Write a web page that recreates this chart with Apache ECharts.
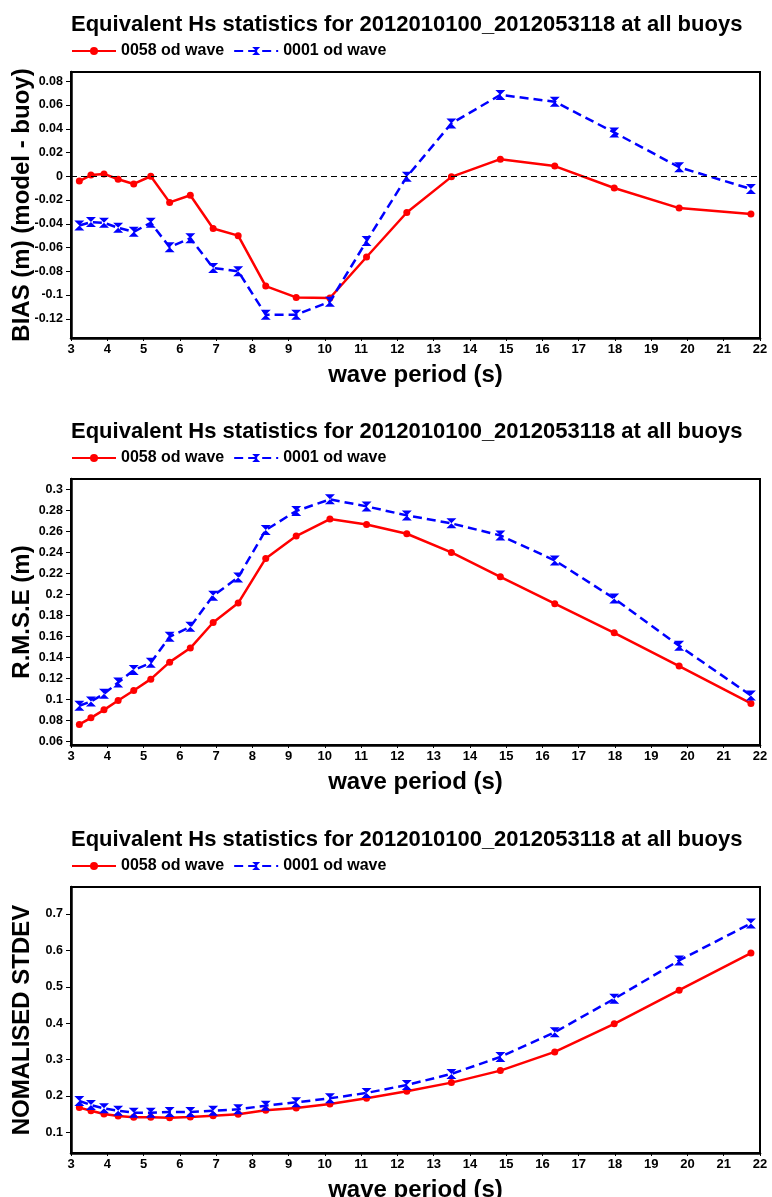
<!DOCTYPE html>
<html>
<head>
<meta charset="utf-8">
<title>Equivalent Hs statistics</title>
<script src="https://cdn.jsdelivr.net/npm/echarts@6/dist/echarts.min.js"></script>
<style>
  html, body { margin: 0; padding: 0; background: #fff; }
  #chart { width: 772px; height: 1197px; }
</style>
</head>
<body>
<div id="chart"></div>
<script>
// Wave period bins (s)
const periods = [3.23, 3.55, 3.91, 4.30, 4.73, 5.20, 5.72, 6.29, 6.92, 7.61, 8.37,
                 9.21, 10.14, 11.15, 12.26, 13.49, 14.84, 16.34, 17.98, 19.77, 21.75];

// Series names
const nameA = '0058 od wave';
const nameB = '0001 od wave';

// BIAS (m) (model - buoy)
const bias0058 = [-0.004, 0.001, 0.002, -0.0025, -0.0065, 0.000, -0.022, -0.016, -0.044, -0.050, -0.0925,
                  -0.102, -0.1025, -0.068, -0.0305, -0.0005, 0.0144, 0.0086, -0.0099, -0.0268, -0.0318];
const bias0001 = [-0.0414, -0.0386, -0.0392, -0.0434, -0.0468, -0.0392, -0.0597, -0.0521, -0.0772, -0.080, -0.1166,
                  -0.1166, -0.1056, -0.0546, -0.0005, 0.0445, 0.0685, 0.0628, 0.0369, 0.0076, -0.0107];

// R.M.S.E (m)
const rmse0058 = [0.0762, 0.0825, 0.0901, 0.099, 0.1086, 0.1194, 0.1356, 0.149, 0.1734, 0.1919, 0.2345,
                  0.2558, 0.272, 0.2669, 0.258, 0.2402, 0.217, 0.1913, 0.1636, 0.1318, 0.0962];
const rmse0001 = [0.094, 0.0981, 0.1054, 0.1162, 0.128, 0.135, 0.1598, 0.1693, 0.1989, 0.2164, 0.2615,
                  0.2797, 0.2908, 0.2841, 0.2755, 0.2679, 0.2564, 0.2326, 0.1963, 0.1512, 0.1038];

// Normalised standard deviation
const std0058 = [0.168, 0.1596, 0.1505, 0.145, 0.1413, 0.1413, 0.1404, 0.1422, 0.1459, 0.1495, 0.1606,
                 0.167, 0.178, 0.1936, 0.2128, 0.2367, 0.2697, 0.3211, 0.3982, 0.4908, 0.5927];
const std0001 = [0.1862, 0.1752, 0.166, 0.1596, 0.1541, 0.1541, 0.156, 0.156, 0.1596, 0.1633, 0.1734,
                 0.1826, 0.1936, 0.2083, 0.2303, 0.2606, 0.3073, 0.3752, 0.467, 0.5725, 0.6743];

// Tick values
const periodTicks = [3, 4, 5, 6, 7, 8, 9, 10, 11, 12, 13, 14, 15, 16, 17, 18, 19, 20, 21, 22];
const biasTicks = [-0.12, -0.1, -0.08, -0.06, -0.04, -0.02, 0, 0.02, 0.04, 0.06, 0.08];
const rmseTicks = [0.06, 0.08, 0.1, 0.12, 0.14, 0.16, 0.18, 0.2, 0.22, 0.24, 0.26, 0.28, 0.3];
const stdTicks = [0.1, 0.2, 0.3, 0.4, 0.5, 0.6, 0.7];

const titleText = 'Equivalent Hs statistics for 2012010100_2012053118 at all buoys';
const FONT = '"Liberation Sans", Arial, sans-serif';

// Panel layout: grid top, y-range and y-axis title
const panels = [
  { top: 72,  yMin: -0.1362, yMax: 0.0878, yName: 'BIAS (m) (model - buoy)', ticks: biasTicks, a: bias0058, b: bias0001, zero: true },
  { top: 479, yMin: 0.0566,  yMax: 0.3102, yName: 'R.M.S.E (m)',             ticks: rmseTicks, a: rmse0058, b: rmse0001 },
  { top: 887, yMin: 0.0433,  yMax: 0.7743, yName: 'NOMALISED STDEV',         ticks: stdTicks,  a: std0058,  b: std0001 }
];

// Hourglass marker for the 0001 run
const bowtie = 'path://M0,0 L10,0 L5,5 L10,10 L0,10 L5,5 Z';
const pairs = arr => periods.map((p, i) => [p, arr[i]]);
const fmt = v => String(+(+v).toFixed(3));

const option = {
  backgroundColor: '#ffffff',
  animation: false,
  title: [], legend: [], grid: [], xAxis: [], yAxis: [], series: []
};

panels.forEach((pn, k) => {
  const off = pn.top - 72;
  option.title.push({
    text: titleText,
    left: 71, top: 14 + off, padding: 0,
    textStyle: { fontFamily: FONT, fontWeight: 'bold', fontSize: 22, color: '#000' }
  });
  option.legend.push({
    left: 71, top: 43 + off, padding: 0,
    itemWidth: 44, itemHeight: 10, itemGap: 9,
    data: [nameA, nameB],
    textStyle: { fontFamily: FONT, fontWeight: 'bold', fontSize: 16, color: '#000' }
  });
  option.grid.push({
    left: 71, top: pn.top, width: 689, height: 266,
    containLabel: false, outerBoundsMode: 'none',
    show: true, borderColor: '#000', borderWidth: 2, backgroundColor: 'transparent'
  });
  option.xAxis.push({
    type: 'value', gridIndex: k, min: 3, max: 22, interval: 1,
    name: 'wave period (s)', nameLocation: 'middle', nameGap: 25, nameMoveOverlap: false,
    nameTextStyle: { fontFamily: FONT, fontWeight: 'bold', fontSize: 24, color: '#000' },
    axisLine: { show: true, onZero: false, lineStyle: { color: '#000', width: 2.5 } },
    axisTick: { show: true, inside: false, length: 3, lineStyle: { color: '#000', width: 1 } },
    axisLabel: {
      customValues: periodTicks, margin: 5,
      fontFamily: FONT, fontWeight: 'bold', fontSize: 13, color: '#000'
    },
    splitLine: { show: false }
  });
  option.yAxis.push({
    type: 'value', gridIndex: k, min: pn.yMin, max: pn.yMax,
    name: pn.yName, nameLocation: 'middle', nameGap: 37, nameMoveOverlap: false,
    nameTextStyle: { fontFamily: FONT, fontWeight: 'bold', fontSize: 24, color: '#000' },
    axisLine: { show: true, onZero: false, lineStyle: { color: '#000', width: 2.5 } },
    axisTick: { show: true, inside: false, length: 5, customValues: pn.ticks, lineStyle: { color: '#000', width: 1 } },
    axisLabel: {
      customValues: pn.ticks, margin: 8, formatter: fmt,
      fontFamily: FONT, fontWeight: 'bold', fontSize: 12.5, color: '#000'
    },
    splitLine: { show: false }
  });
  const red = {
    name: nameA, type: 'line', xAxisIndex: k, yAxisIndex: k,
    data: pairs(pn.a),
    symbol: 'circle', symbolSize: 7,
    itemStyle: { color: '#ff0000' },
    lineStyle: { color: '#ff0000', width: 2.5 },
    z: 3
  };
  if (pn.zero) {
    red.markLine = {
      silent: true, symbol: 'none', label: { show: false },
      lineStyle: { color: '#000', width: 1, type: [6, 4] },
      data: [{ yAxis: 0 }]
    };
  }
  option.series.push(red);
  option.series.push({
    name: nameB, type: 'line', xAxisIndex: k, yAxisIndex: k,
    data: pairs(pn.b),
    symbol: bowtie, symbolSize: [10, 10],
    itemStyle: { color: '#0000ff' },
    lineStyle: { color: '#0000ff', width: 2.5, type: [9, 5] },
    z: 4
  });
});

const chart = echarts.init(document.getElementById('chart'), null, { renderer: 'canvas' });
chart.setOption(option);
</script>
</body>
</html>
